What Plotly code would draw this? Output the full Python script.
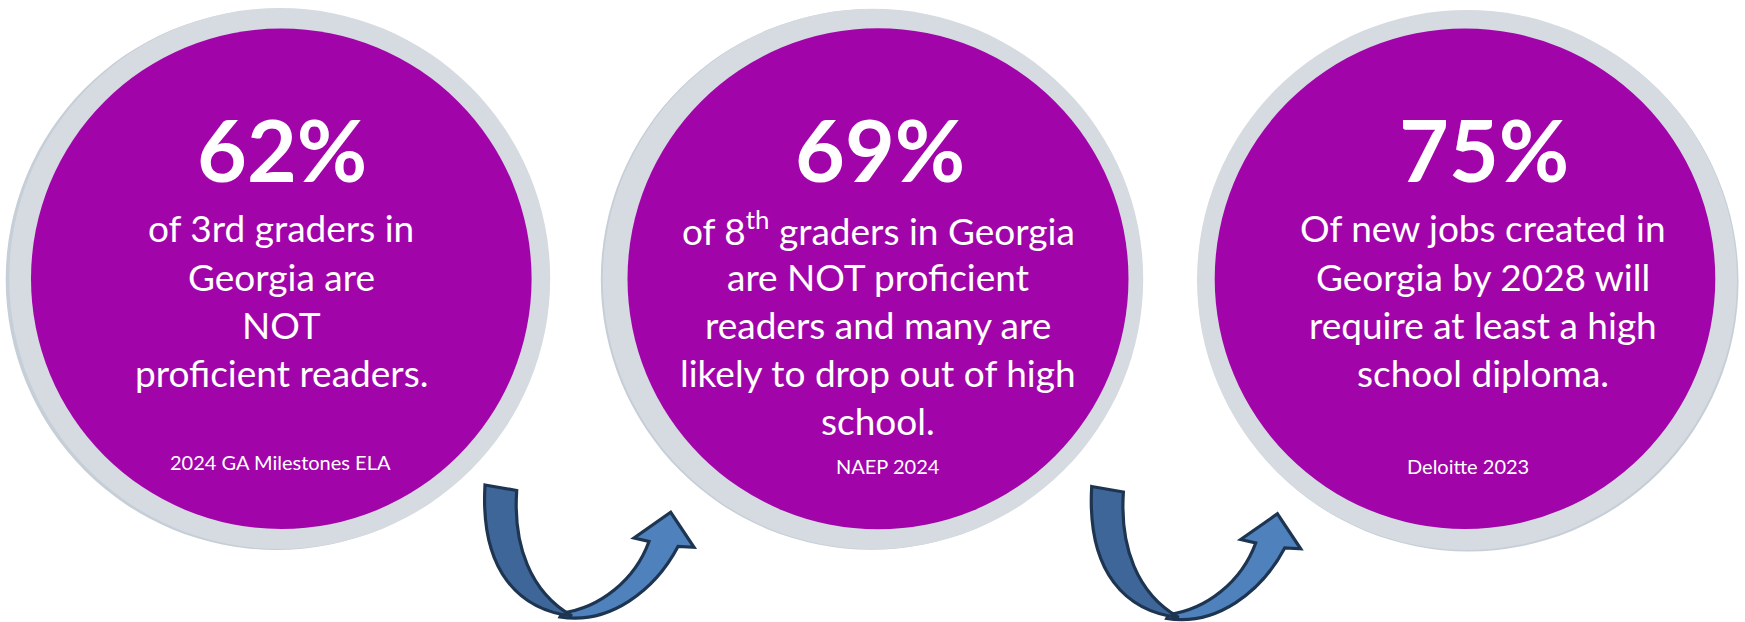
import plotly.graph_objects as go

# ---------------- data ----------------
percent_labels = ["62%", "69%", "75%"]
body_lines = [
    ["of 3rd graders in", "Georgia are", "NOT", "proficient readers."],
    ["of 8<sup>th</sup> graders in Georgia", "are NOT proficient",
     "readers and many are", "likely to drop out of high", "school."],
    ["Of new jobs created in", "Georgia by 2028 will",
     "require at least a high", "school diploma."],
]
sources = ["2024 GA Milestones ELA", "NAEP 2024", "Deloitte 2023"]

# ---------------- layout / style constants ----------------
W, H = 1745, 622
PURPLE = "#A105AA"
RING = "#D6DAE1"
RING_SHADOW = "#C6CED7"
ARROW_DARK = "#3F6699"
ARROW_LIGHT = "#4F81BD"
ARROW_LINE = "#1E3552"
FONT = "Lato"

# (cx, cy, r) for outer ring and purple disc
outer = [(279.7, 278.5, 270.5), (873.0, 279.0, 270.2), (1467.0, 280.0, 270.0)]
shadow_off = [(-3.5, 1.0), (-2.0, 0.5), (1.5, 1.5)]
inner = [(281.3, 278.7, 250.3), (878.0, 278.8, 250.5), (1465.0, 278.8, 250.3)]

pct_x = [281.7, 879.7, 1484.0]
body_x = [281.0, 878.0, 1483.0]
src_x = [280.8, 888.0, 1468.0]
pct_base = 181.7
body_base0 = 242.3
body_step = 48.2
src_base = [469.3, 474.0, 474.0]

PCT_SIZE = 86
BODY_SIZE = 37
SRC_SIZE = 20
K = 0.387  # baseline -> middle offset factor

arrow_offsets = [(0.0, 0.0), (606.7, 1.5)]


def arrow_paths(dx, dy):
    def p(x, y):
        return f"{x + dx:.1f},{y + dy:.1f}"
    light = (f"M {p(560, 617)} C {p(610, 625)} {p(655, 590)} {p(678, 546.5)} "
             f"L {p(694, 547.3)} L {p(670.7, 512.3)} L {p(634, 538)} "
             f"L {p(649, 541.5)} C {p(635, 580)} {p(600, 608)} {p(562, 613)} Z")
    dark = (f"M {p(485, 485)} L {p(516.7, 490.5)} "
            f"C {p(513, 545)} {p(530, 592)} {p(572, 616)} "
            f"C {p(520, 610)} {p(480, 572)} {p(485, 485)} Z")
    return light, dark


fig = go.Figure()

shapes = []
for (cx, cy, r), (sx, sy) in zip(outer, shadow_off):
    shapes.append(dict(type="circle", xref="x", yref="y",
                       x0=cx - r + sx, x1=cx + r + sx, y0=cy - r + sy, y1=cy + r + sy,
                       fillcolor=RING_SHADOW, line=dict(width=0), layer="below"))
    shapes.append(dict(type="circle", xref="x", yref="y",
                       x0=cx - r, x1=cx + r, y0=cy - r, y1=cy + r,
                       fillcolor=RING, line=dict(width=0), layer="below"))
for cx, cy, r in inner:
    shapes.append(dict(type="circle", xref="x", yref="y",
                       x0=cx - r, x1=cx + r, y0=cy - r, y1=cy + r,
                       fillcolor=PURPLE, line=dict(width=0), layer="below"))
for dx, dy in arrow_offsets:
    light, dark = arrow_paths(dx, dy)
    shapes.append(dict(type="path", xref="x", yref="y", path=light,
                       fillcolor=ARROW_LIGHT, line=dict(color=ARROW_LINE, width=3.2),
                       layer="above"))
    shapes.append(dict(type="path", xref="x", yref="y", path=dark,
                       fillcolor=ARROW_DARK, line=dict(color=ARROW_LINE, width=3.2),
                       layer="above"))

annotations = []
for i in range(3):
    annotations.append(dict(
        x=pct_x[i], y=pct_base - K * PCT_SIZE, xref="x", yref="y",
        text=f"<b>{percent_labels[i]}</b>", showarrow=False,
        xanchor="center", yanchor="middle",
        font=dict(family=FONT, size=PCT_SIZE, color="white")))
    for j, line in enumerate(body_lines[i]):
        annotations.append(dict(
            x=body_x[i], y=body_base0 + j * body_step - K * BODY_SIZE,
            xref="x", yref="y", text=line, showarrow=False,
            xanchor="center", yanchor="middle",
            font=dict(family=FONT, size=BODY_SIZE, color="white")))
    annotations.append(dict(
        x=src_x[i], y=src_base[i] - K * SRC_SIZE, xref="x", yref="y",
        text=sources[i], showarrow=False, xanchor="center", yanchor="middle",
        font=dict(family=FONT, size=SRC_SIZE, color="white")))

fig.update_layout(
    width=W, height=H,
    margin=dict(l=0, r=0, t=0, b=0),
    paper_bgcolor="white", plot_bgcolor="white",
    xaxis=dict(range=[0, W], visible=False, fixedrange=True),
    yaxis=dict(range=[H, 0], visible=False, fixedrange=True),
    shapes=shapes, annotations=annotations, showlegend=False,
)

fig.write_html(
    "out.html",
    config={"displayModeBar": False},
    post_script="document.body.style.margin='0';document.body.style.overflow='hidden';",
)
